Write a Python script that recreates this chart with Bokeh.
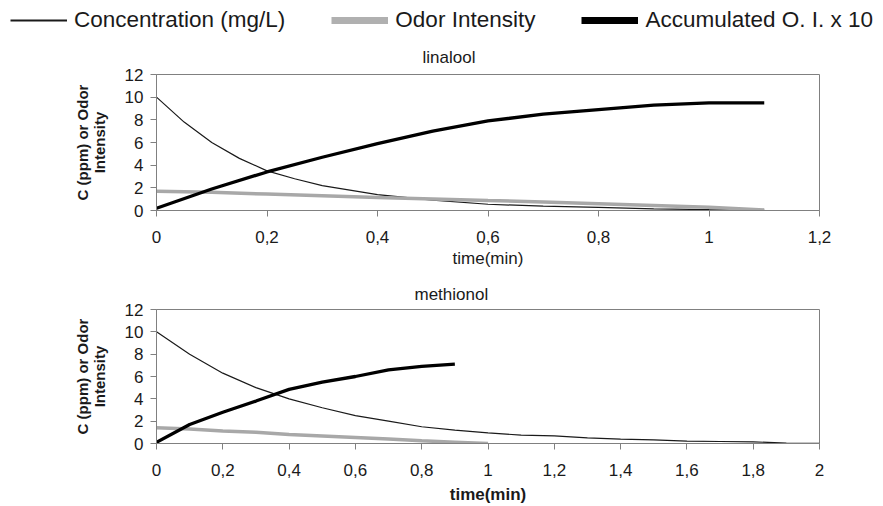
from bokeh.plotting import figure
from bokeh.models import Range1d, FixedTicker, Legend, LegendItem, Title
from bokeh.layouts import column, row
from bokeh.embed import file_html
from bokeh.resources import INLINE

FONT = "Liberation Sans"

# ---------------- data ----------------
series_names = ["Concentration (mg/L)", "Odor Intensity", "Accumulated O. I. x 10"]
panel_titles = ["linalool", "methionol"]
y_label = "C (ppm) or Odor\nIntensity"
x_label = "time(min)"

y_ticks = [0, 2, 4, 6, 8, 10, 12]

x_ticks_top = [0, 0.2, 0.4, 0.6, 0.8, 1.0, 1.2]
x_labels_top = ["0", "0,2", "0,4", "0,6", "0,8", "1", "1,2"]
x_ticks_bot = [0, 0.2, 0.4, 0.6, 0.8, 1.0, 1.2, 1.4, 1.6, 1.8, 2.0]
x_labels_bot = ["0", "0,2", "0,4", "0,6", "0,8", "1", "1,2", "1,4", "1,6", "1,8", "2"]

# linalool
lin_t_conc = [0, 0.05, 0.1, 0.15, 0.2, 0.25, 0.3, 0.35, 0.4, 0.5, 0.6, 0.7, 0.8, 0.9, 1.0, 1.1]
lin_conc = [10, 7.8, 6.0, 4.6, 3.5, 2.8, 2.2, 1.8, 1.4, 0.92, 0.55, 0.38, 0.28, 0.15, 0.07, 0.03]
lin_t = [0, 0.1, 0.2, 0.3, 0.4, 0.5, 0.6, 0.7, 0.8, 0.9, 1.0, 1.1]
lin_odor = [1.7, 1.6, 1.45, 1.3, 1.15, 1.02, 0.88, 0.75, 0.6, 0.45, 0.28, 0.05]
lin_acc = [0.2, 1.9, 3.4, 4.7, 5.9, 7.0, 7.9, 8.5, 8.9, 9.3, 9.5, 9.5]

# methionol
met_t_conc = [0, 0.1, 0.2, 0.3, 0.4, 0.5, 0.6, 0.7, 0.8, 0.9, 1.0,
              1.1, 1.2, 1.3, 1.4, 1.5, 1.6, 1.7, 1.8, 1.9, 2.0]
met_conc = [10, 8.0, 6.3, 5.0, 4.0, 3.2, 2.5, 2.0, 1.5, 1.2, 0.95,
            0.75, 0.68, 0.5, 0.4, 0.32, 0.22, 0.18, 0.15, 0.03, 0.02]
met_t_odor = [0, 0.1, 0.2, 0.3, 0.4, 0.5, 0.6, 0.7, 0.8, 0.9, 1.0]
met_odor = [1.4, 1.3, 1.13, 1.0, 0.8, 0.68, 0.54, 0.4, 0.24, 0.12, 0.0]
met_t_acc = [0, 0.1, 0.2, 0.3, 0.4, 0.5, 0.6, 0.7, 0.8, 0.9]
met_acc = [0.1, 1.7, 2.8, 3.8, 4.85, 5.5, 6.0, 6.6, 6.9, 7.1]

CONC_COLOR = "#1a1a1a"
ODOR_COLOR = "#a8a8a8"
ACC_COLOR = "#000000"
GRID_GREY = "#808080"
W = 880


def style(p, ticks, labels, xlab_bold, xlab_size, tick_standoff, xlab_standoff):
    p.grid.visible = False
    p.outline_line_color = GRID_GREY
    p.background_fill_color = "white"
    p.border_fill_color = "white"
    for ax in (p.xaxis[0], p.yaxis[0]):
        ax.axis_line_color = GRID_GREY
        ax.major_tick_line_color = GRID_GREY
        ax.minor_tick_line_color = None
        ax.major_tick_in = 0
        ax.major_tick_out = 6
        ax.major_label_text_font = FONT
        ax.major_label_text_font_size = "17px"
        ax.major_label_text_color = "#1a1a1a"
        ax.axis_label_text_font = FONT
        ax.axis_label_text_color = "#1a1a1a"
    xa = p.xaxis[0]
    xa.ticker = FixedTicker(ticks=ticks)
    xa.major_label_overrides = dict(zip(ticks, labels))
    xa.major_label_standoff = tick_standoff
    xa.axis_label = x_label
    xa.axis_label_text_font_style = "bold" if xlab_bold else "normal"
    xa.axis_label_text_font_size = xlab_size
    xa.axis_label_standoff = xlab_standoff
    ya = p.yaxis[0]
    ya.ticker = FixedTicker(ticks=y_ticks)
    ya.major_label_standoff = 7
    ya.axis_label = y_label
    ya.axis_label_text_font_style = "bold"
    ya.axis_label_text_font_size = "15px"
    ya.axis_label_text_line_height = 0.95
    ya.axis_label_standoff = 14


# ---------------- legend strip ----------------
HL = 36
pl = figure(width=W, height=HL, x_range=Range1d(0, 1.2), y_range=Range1d(0, 12),
            output_backend="svg", toolbar_location=None, title_location=None,
            x_axis_location=None, y_axis_location=None,
            min_border=0, outline_line_color=None)
pl.grid.visible = False
r1 = pl.line(lin_t_conc, lin_conc, line_color=CONC_COLOR, line_width=1.8, visible=False)
r2 = pl.line(lin_t, lin_odor, line_color="#b0b0b0", line_width=7, visible=False)
r3 = pl.line(lin_t, lin_acc, line_color=ACC_COLOR, line_width=7, visible=False)
legend = Legend(items=[LegendItem(label=series_names[0], renderers=[r1]),
                       LegendItem(label=series_names[1], renderers=[r2]),
                       LegendItem(label=series_names[2], renderers=[r3])],
                orientation="horizontal", location=(10, 3),
                glyph_width=57, glyph_height=26, label_standoff=7, spacing=46,
                padding=0, margin=0, border_line_color=None,
                background_fill_alpha=0,
                label_text_font=FONT, label_text_font_size="22.5px",
                label_text_color="#1a1a1a")
pl.add_layout(legend, "center")

# ---------------- top panel ----------------
H1 = 276 - HL
p1 = figure(width=W, height=H1, x_range=Range1d(0, 1.2), y_range=Range1d(0, 12),
            output_backend="svg", toolbar_location=None, title_location=None,
            min_border_top=74 - HL, min_border_bottom=276 - 210, min_border_left=156,
            min_border_right=W - 819)
style(p1, x_ticks_top, x_labels_top, False, "17px", 14, 3)

p1.line(lin_t_conc, lin_conc, line_color=CONC_COLOR, line_width=1.2)
p1.line(lin_t, lin_odor, line_color=ODOR_COLOR, line_width=3.5)
p1.line(lin_t, lin_acc, line_color=ACC_COLOR, line_width=3.3)

p1.add_layout(Title(text=panel_titles[0], align="left", offset=266,
                    text_font=FONT, text_font_size="17px", text_font_style="normal",
                    text_color="#1a1a1a", standoff=16), "above")

# ---------------- bottom panel ----------------
H2 = 506 - 276
p2 = figure(width=W, height=H2, x_range=Range1d(0, 2), y_range=Range1d(0, 12),
            output_backend="svg", toolbar_location=None, title_location=None,
            min_border_top=308 - 276, min_border_bottom=506 - 443,
            min_border_left=152, min_border_right=W - 821)
style(p2, x_ticks_bot, x_labels_bot, True, "17px", 14, 6)

p2.line(met_t_conc, met_conc, line_color=CONC_COLOR, line_width=1.2)
p2.line(met_t_odor, met_odor, line_color=ODOR_COLOR, line_width=3.5)
p2.line(met_t_acc, met_acc, line_color=ACC_COLOR, line_width=3.3)

p2.add_layout(Title(text=panel_titles[1], align="left", offset=258,
                    text_font=FONT, text_font_size="17px", text_font_style="normal",
                    text_color="#1a1a1a", standoff=12), "above")

layout = column(row(pl), p1, p2, spacing=0)
open("out.html", "w").write(file_html(layout, INLINE))
